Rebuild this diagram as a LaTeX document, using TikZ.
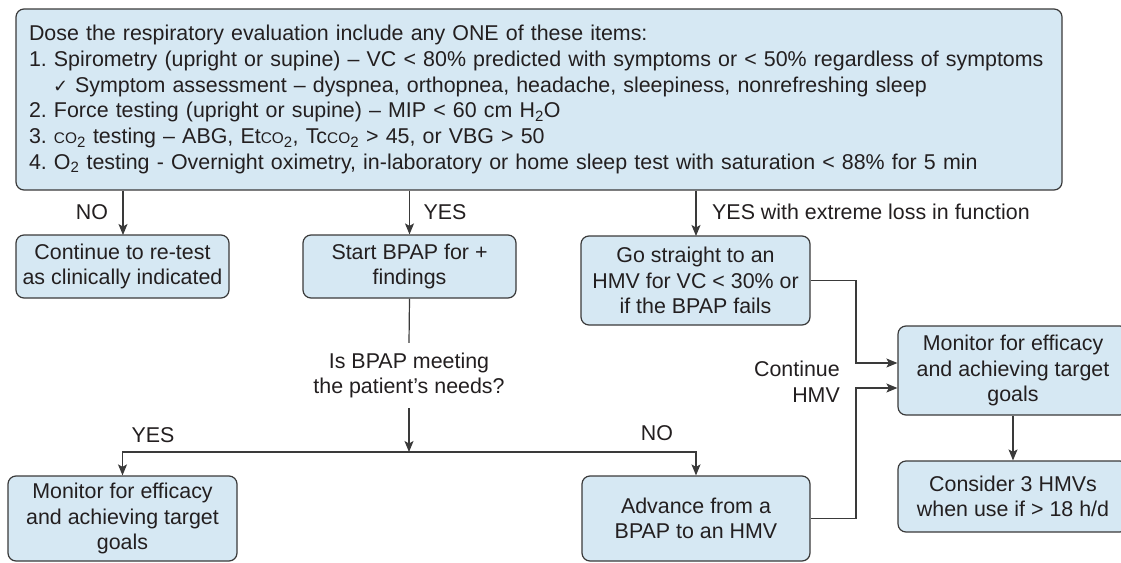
\documentclass[tikz,border=0pt]{standalone}
\usepackage{fontspec}
\setmainfont{Liberation Sans}
\newfontfamily\dejavu{DejaVu Sans}
\usetikzlibrary{arrows.meta}
\definecolor{boxfill}{HTML}{D6E8F3}
\definecolor{boxline}{HTML}{3A3A3A}
\definecolor{txt}{HTML}{231F20}
\newcommand\smallco{{\fontsize{15.4}{15.4}\selectfont CO}\textsubscript{2}}
\frenchspacing
\begin{document}
\begin{tikzpicture}[x=1pt,y=-1pt,
  every node/.style={text=txt,font=\fontsize{21.4}{25.5}\selectfont},
  fbox/.style={draw=boxline,fill=boxfill,line width=1.2pt,rounded corners=8pt,
    align=center,inner sep=0pt},
  lbl/.style={inner sep=0pt},
  conn/.style={draw=boxline,line width=1.2pt},
  arr/.style={conn,-{Stealth[length=11pt,width=9pt,inset=2.5pt]}}]
\useasboundingbox (0,0) rectangle (1121,562);
\clip (0,0) rectangle (1121,562);

% top question box
\node[fbox,minimum width=1046pt,minimum height=181pt,text width=1020pt,align=left,
  font=\fontsize{21.4}{25.8}\selectfont]
  (top) at (539,99.5) {%
Dose the respiratory evaluation include any ONE of these items:\\
1. Spirometry (upright or supine) -- VC < 80\% predicted with symptoms or < 50\% regardless of symptoms\\
\hspace*{24pt}{\dejavu\fontsize{18}{18}\selectfont ✓}\hspace{7pt}Symptom assessment -- dyspnea, orthopnea, headache, sleepiness, nonrefreshing sleep\\
2. Force testing (upright or supine) -- MIP < 60 cm H\textsubscript{2}O\\
3. \smallco{} testing -- ABG, Et\smallco, Tc\smallco{} > 45, or VBG > 50\\
4. O\textsubscript{2} testing - Overnight oximetry, in-laboratory or home sleep test with saturation < 88\% for 5 min};

% second row
\node[fbox,minimum width=213pt,minimum height=63pt] (cont) at (122.5,266.5)
  {Continue to re-test\\as clinically indicated};
\node[fbox,minimum width=213pt,minimum height=63pt] (bpap) at (409.5,266.5)
  {Start BPAP for +\\findings};
\node[fbox,minimum width=229pt,minimum height=89pt] (go) at (695.5,280.5)
  {Go straight to an\\HMV for VC < 30\% or\\if the BPAP fails};

% right column
\node[fbox,minimum width=230pt,minimum height=89pt] (monR) at (1013,370.5)
  {Monitor for efficacy\\and achieving target\\goals};
\node[fbox,minimum width=230pt,minimum height=71pt] (cons) at (1013,496.5)
  {Consider 3 HMVs\\when use if > 18 h/d};

% bottom row
\node[fbox,minimum width=229pt,minimum height=85pt] (monL) at (122.5,518.5)
  {Monitor for efficacy\\and achieving target\\goals};
\node[fbox,minimum width=228pt,minimum height=85pt] (adv) at (696,518.5)
  {Advance from a\\BPAP to an HMV};

% question text
\node[lbl,align=center,minimum height=65pt] (q) at (409,375.5)
  {Is BPAP meeting\\the patient’s needs?};

% labels
\node[lbl] (lno1) at (92,212) {NO};
\node[lbl] (lyes1) at (445,212) {YES};
\node[lbl,anchor=west] (lyes2) at (712,212) {YES with extreme loss in function};
\node[lbl] (lyes3) at (153,435) {YES};
\node[lbl] (lno2) at (657,433) {NO};
\node[lbl,anchor=east,align=right] (lcont) at (840,381.5) {Continue\\HMV};

% connectors
\coordinate (split) at (409,452);
\coordinate (bus) at (856,0);
\draw[arr] (top.south -| 123,0) -- (123,235);
\draw[arr] (top.south -| bpap.north) -- (bpap.north);
\draw[arr] (top.south -| 696,0) -- (696,236);
\draw[conn] (bpap.south) -- (q.north);
\draw[arr] (q.south) -- (split);
\draw[arr] (split) -| (monL.north);
\draw[arr] (split) -| (adv.north);
\draw[arr] (go.east) -- (go.east -| bus) |- ([yshift=7.5pt]monR.west);
\draw[arr] (adv.east) -- (adv.east -| bus) |- ([yshift=-17.5pt]monR.west);
\draw[arr] (monR.south) -- (cons.north);
\end{tikzpicture}
\end{document}
